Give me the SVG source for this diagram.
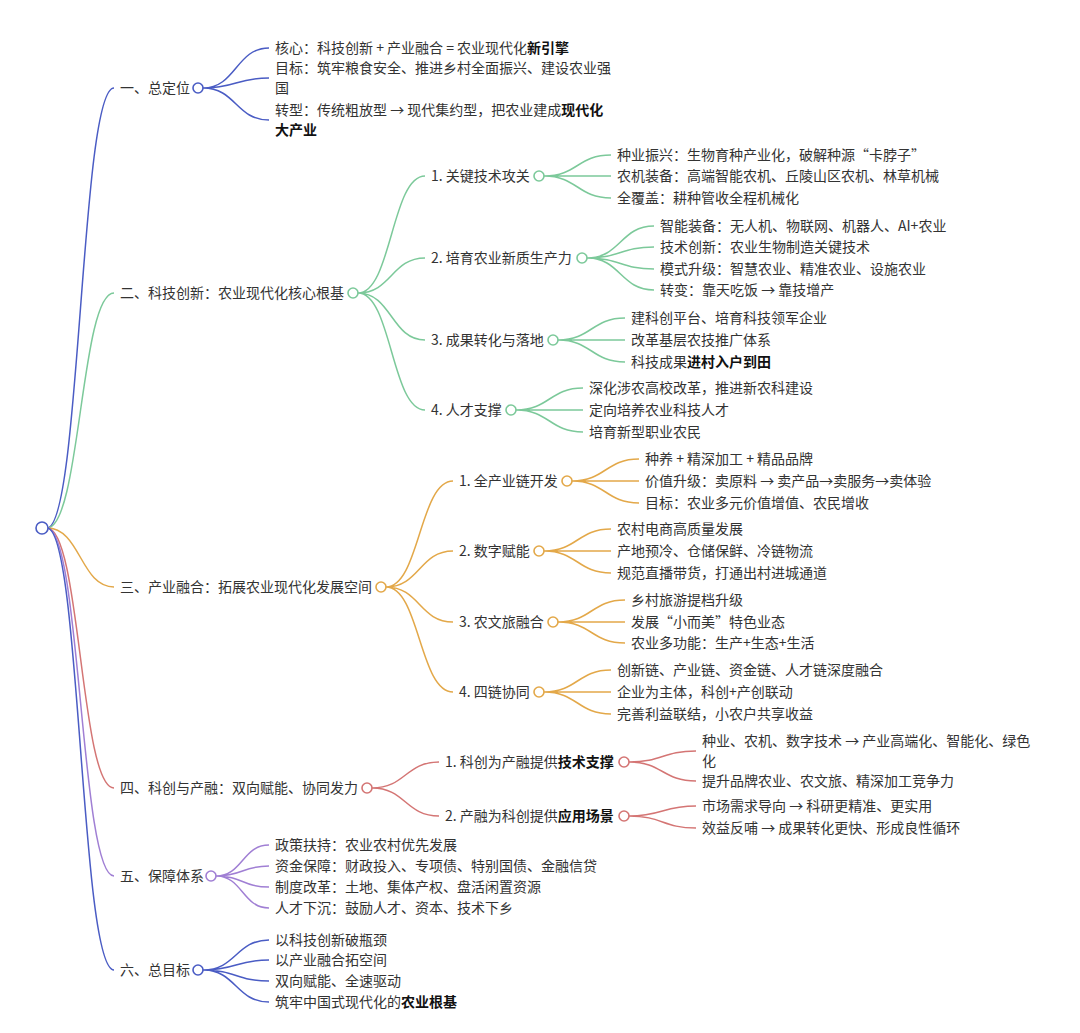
<svg xmlns="http://www.w3.org/2000/svg" width="1080" height="1033" viewBox="0 0 1080 1033">
<style>
text{font-family:"Noto Sans CJK SC","Noto Sans",sans-serif;font-size:14px;fill:#333}
.b{font-weight:700;fill:#111}
path{fill:none;stroke-width:1.5}
.bl{stroke:#4a5cc4}.gr{stroke:#7cc99a}.or{stroke:#e3a849}.rd{stroke:#d47574}.pu{stroke:#a07fd4}
circle{fill:#fff;stroke-width:1.6}
</style>
<rect width="1080" height="1033" fill="#fff"/>
<g id="connectors">
<path class="bl" d="M47 528C80.5 528 80.5 88 114 88"/>
<path class="gr" d="M47 528C80.5 528 80.5 293 114 293"/>
<path class="or" d="M47 528C80.5 528 80.5 587 114 587"/>
<path class="rd" d="M47 528C80.5 528 80.5 788 114 788"/>
<path class="pu" d="M47 528C80.5 528 80.5 876 114 876"/>
<path class="bl" d="M47 528C80.5 528 80.5 970 114 970"/>
<path class="bl" d="M203 88C236 88 236 48 269 48M203 88C236 88 236 78 269 78M203 88C236 88 236 120 269 120"/>
<path class="gr" d="M358 293C391.5 293 391.5 176 425 176M358 293C391.5 293 391.5 258 425 258M358 293C391.5 293 391.5 340 425 340M358 293C391.5 293 391.5 410 425 410"/>
<path class="gr" d="M544 176C577.5 176 577.5 155 611 155M544 176C577.5 176 577.5 176 611 176M544 176C577.5 176 577.5 198 611 198"/>
<path class="gr" d="M587 258C620.5 258 620.5 226 654 226M587 258C620.5 258 620.5 247 654 247M587 258C620.5 258 620.5 269 654 269M587 258C620.5 258 620.5 290 654 290"/>
<path class="gr" d="M558 340C591.5 340 591.5 318 625 318M558 340C591.5 340 591.5 340 625 340M558 340C591.5 340 591.5 362 625 362"/>
<path class="gr" d="M516 410C549.5 410 549.5 388 583 388M516 410C549.5 410 549.5 410 583 410M516 410C549.5 410 549.5 432 583 432"/>
<path class="or" d="M386 587C419.5 587 419.5 481 453 481M386 587C419.5 587 419.5 551 453 551M386 587C419.5 587 419.5 622 453 622M386 587C419.5 587 419.5 692 453 692"/>
<path class="or" d="M572 481C605.5 481 605.5 459 639 459M572 481C605.5 481 605.5 481 639 481M572 481C605.5 481 605.5 503 639 503"/>
<path class="or" d="M544 551C577.5 551 577.5 529 611 529M544 551C577.5 551 577.5 551 611 551M544 551C577.5 551 577.5 573 611 573"/>
<path class="or" d="M558 622C591.5 622 591.5 600 625 600M558 622C591.5 622 591.5 622 625 622M558 622C591.5 622 591.5 643 625 643"/>
<path class="or" d="M544 692C577.5 692 577.5 670 611 670M544 692C577.5 692 577.5 692 611 692M544 692C577.5 692 577.5 714 611 714"/>
<path class="rd" d="M372 788C405.5 788 405.5 762 439 762M372 788C405.5 788 405.5 816 439 816"/>
<path class="rd" d="M629 762C662.5 762 662.5 751 696 751M629 762C662.5 762 662.5 781 696 781"/>
<path class="rd" d="M629 816C662.5 816 662.5 806 696 806M629 816C662.5 816 662.5 828 696 828"/>
<path class="pu" d="M216 876C242.5 876 242.5 845 269 845M216 876C242.5 876 242.5 866 269 866M216 876C242.5 876 242.5 887 269 887M216 876C242.5 876 242.5 908 269 908"/>
<path class="bl" d="M203 970C236 970 236 940 269 940M203 970C236 970 236 960 269 960M203 970C236 970 236 981 269 981M203 970C236 970 236 1002 269 1002"/>
</g>
<g id="root"><circle cx="42" cy="528" r="6" stroke="#4a5cc4"/></g>
<g id="n1">
<text x="120" y="93">一、总定位</text><circle cx="198" cy="88" r="5" stroke="#4a5cc4"/>
<text x="275" y="53">核心：科技创新 + 产业融合 = 农业现代化<tspan class="b">新引擎</tspan></text>
<text x="275" y="73">目标：筑牢粮食安全、推进乡村全面振兴、建设农业强</text>
<text x="275" y="93">国</text>
<text x="275" y="115">转型：传统粗放型 → 现代集约型，把农业建成<tspan class="b">现代化</tspan></text>
<text x="275" y="135" class="b">大产业</text>
</g>
<g id="n2">
<text x="120" y="298">二、科技创新：农业现代化核心根基</text><circle cx="353" cy="293" r="5" stroke="#7cc99a"/>
<g id="n2-1"><text x="431" y="181">1. 关键技术攻关</text><circle cx="539" cy="176" r="5" stroke="#7cc99a"/>
<text x="617" y="160">种业振兴：生物育种产业化，破解种源“卡脖子”</text>
<text x="617" y="181">农机装备：高端智能农机、丘陵山区农机、林草机械</text>
<text x="617" y="203">全覆盖：耕种管收全程机械化</text></g>
<g id="n2-2"><text x="431" y="263">2. 培育农业新质生产力</text><circle cx="582" cy="258" r="5" stroke="#7cc99a"/>
<text x="660" y="231">智能装备：无人机、物联网、机器人、AI+农业</text>
<text x="660" y="252">技术创新：农业生物制造关键技术</text>
<text x="660" y="274">模式升级：智慧农业、精准农业、设施农业</text>
<text x="660" y="295">转变：靠天吃饭 → 靠技增产</text></g>
<g id="n2-3"><text x="431" y="345">3. 成果转化与落地</text><circle cx="553" cy="340" r="5" stroke="#7cc99a"/>
<text x="631" y="323">建科创平台、培育科技领军企业</text>
<text x="631" y="345">改革基层农技推广体系</text>
<text x="631" y="367">科技成果<tspan class="b">进村入户到田</tspan></text></g>
<g id="n2-4"><text x="431" y="415">4. 人才支撑</text><circle cx="511" cy="410" r="5" stroke="#7cc99a"/>
<text x="589" y="393">深化涉农高校改革，推进新农科建设</text>
<text x="589" y="415">定向培养农业科技人才</text>
<text x="589" y="437">培育新型职业农民</text></g>
</g>
<g id="n3">
<text x="120" y="592">三、产业融合：拓展农业现代化发展空间</text><circle cx="381" cy="587" r="5" stroke="#e3a849"/>
<g id="n3-1"><text x="459" y="486">1. 全产业链开发</text><circle cx="567" cy="481" r="5" stroke="#e3a849"/>
<text x="645" y="464">种养 + 精深加工 + 精品品牌</text>
<text x="645" y="486">价值升级：卖原料 → 卖产品→卖服务→卖体验</text>
<text x="645" y="508">目标：农业多元价值增值、农民增收</text></g>
<g id="n3-2"><text x="459" y="556">2. 数字赋能</text><circle cx="539" cy="551" r="5" stroke="#e3a849"/>
<text x="617" y="534">农村电商高质量发展</text>
<text x="617" y="556">产地预冷、仓储保鲜、冷链物流</text>
<text x="617" y="578">规范直播带货，打通出村进城通道</text></g>
<g id="n3-3"><text x="459" y="627">3. 农文旅融合</text><circle cx="553" cy="622" r="5" stroke="#e3a849"/>
<text x="631" y="605">乡村旅游提档升级</text>
<text x="631" y="627">发展“小而美”特色业态</text>
<text x="631" y="648">农业多功能：生产+生态+生活</text></g>
<g id="n3-4"><text x="459" y="697">4. 四链协同</text><circle cx="539" cy="692" r="5" stroke="#e3a849"/>
<text x="617" y="675">创新链、产业链、资金链、人才链深度融合</text>
<text x="617" y="697">企业为主体，科创+产创联动</text>
<text x="617" y="719">完善利益联结，小农户共享收益</text></g>
</g>
<g id="n4">
<text x="120" y="793">四、科创与产融：双向赋能、协同发力</text><circle cx="367" cy="788" r="5" stroke="#d47574"/>
<g id="n4-1"><text x="445" y="767">1. 科创为产融提供<tspan class="b">技术支撑</tspan></text><circle cx="624" cy="762" r="5" stroke="#d47574"/>
<text x="702" y="746">种业、农机、数字技术 → 产业高端化、智能化、绿色</text>
<text x="702" y="766">化</text>
<text x="702" y="786">提升品牌农业、农文旅、精深加工竞争力</text></g>
<g id="n4-2"><text x="445" y="821">2. 产融为科创提供<tspan class="b">应用场景</tspan></text><circle cx="624" cy="816" r="5" stroke="#d47574"/>
<text x="702" y="811">市场需求导向 → 科研更精准、更实用</text>
<text x="702" y="833">效益反哺 → 成果转化更快、形成良性循环</text></g>
</g>
<g id="n5">
<text x="120" y="881">五、保障体系</text><circle cx="211" cy="876" r="5" stroke="#a07fd4"/>
<text x="275" y="850">政策扶持：农业农村优先发展</text>
<text x="275" y="871">资金保障：财政投入、专项债、特别国债、金融信贷</text>
<text x="275" y="892">制度改革：土地、集体产权、盘活闲置资源</text>
<text x="275" y="913">人才下沉：鼓励人才、资本、技术下乡</text>
</g>
<g id="n6">
<text x="120" y="975">六、总目标</text><circle cx="198" cy="970" r="5" stroke="#4a5cc4"/>
<text x="275" y="945">以科技创新破瓶颈</text>
<text x="275" y="965">以产业融合拓空间</text>
<text x="275" y="986">双向赋能、全速驱动</text>
<text x="275" y="1007">筑牢中国式现代化的<tspan class="b">农业根基</tspan></text>
</g>
</svg>
